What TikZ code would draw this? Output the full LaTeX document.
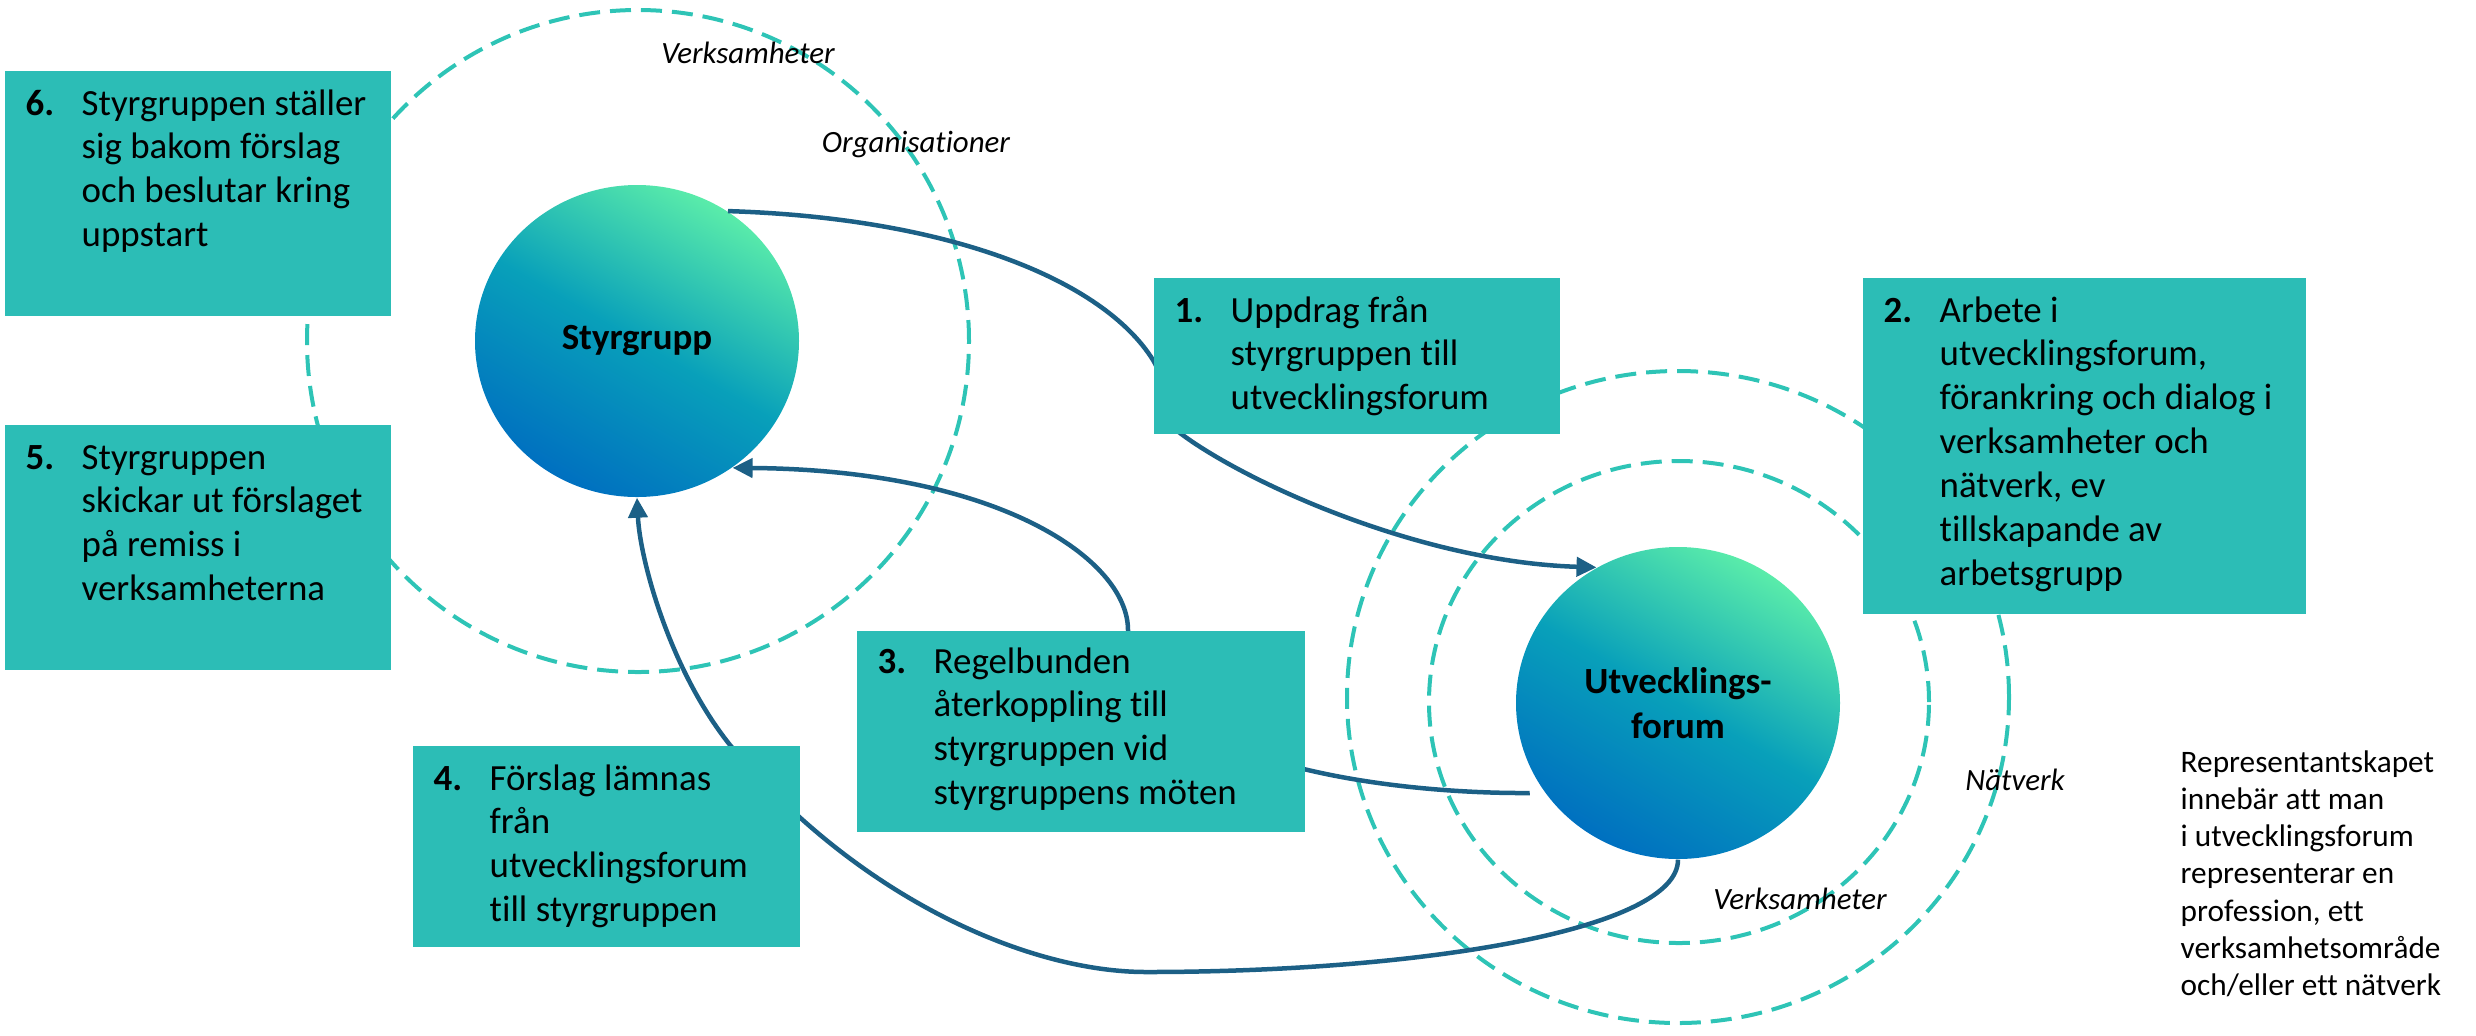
\documentclass[tikz,border=0pt]{standalone}
\usepackage{fontspec}
\setmainfont{Carlito}[Ligatures=NoCommon]
\usetikzlibrary{arrows.meta,shapes.geometric}

\definecolor{boxteal}{RGB}{44,189,182}
\definecolor{ringteal}{RGB}{46,196,182}
\definecolor{flowblue}{RGB}{28,96,134}
\definecolor{discgreen}{RGB}{90,236,170}
\definecolor{discmid}{RGB}{8,160,186}
\definecolor{discblue}{RGB}{0,112,192}

\newcommand{\stepnum}[2]{\makebox[0.56cm][l]{\textbf{#1}}\begin{tabular}[t]{@{}l@{}}#2\end{tabular}}

\begin{document}
\begin{tikzpicture}[
    stepbox/.style={rectangle, fill=boxteal, inner sep=0, anchor=north west},
    steptext/.style={inner sep=0, anchor=base west, font=\fontsize{10.5pt}{12.5pt}\selectfont},
    disc/.style={ellipse, minimum width=3.24cm, minimum height=3.12cm, inner sep=0,
      bottom color=discblue, top color=discgreen, middle color=discmid, shading angle=-30,
      align=center, font=\bfseries\fontsize{10.5pt}{12.8pt}\selectfont},
    ring/.style={draw=ringteal, line width=0.04cm, dash pattern=on 0.21cm off 0.1cm},
    ringlabel/.style={inner sep=0, anchor=base, font=\itshape\fontsize{8.8pt}{10.6pt}\selectfont},
    flow/.style={draw=flowblue, line width=0.045cm, -{Triangle[length=0.2cm,width=0.19cm]}}
  ]
      \useasboundingbox (0, 0) rectangle (24.76, -10.35);

      \draw[ring] (6.38, -3.41) circle (3.31);
      \draw[ring] (16.78, -6.97) ellipse (3.31 and 3.26);
      \draw[ring] (16.79, -7.02) ellipse (2.50 and 2.41);

      \node[disc] (sg) at (6.37, -3.41) {Styrgrupp};
      \node[disc] (uf) at (16.78, -7.03) {Utvecklings-\\forum};

      \path[flow] (sg.55) .. controls (9.50, -2.18) and (11.03, -2.80) .. (11.53, -3.60)
        .. controls (11.68, -3.84) and (11.60, -4.19) .. (11.80, -4.33)
        .. controls (12.45, -4.82) and (14.20, -5.62) .. (uf.121);
      \path[flow, shorten <=0.15cm] (uf.214) .. controls (13.80, -7.94) and (11.28, -7.60) .. (11.28, -6.30)
        .. controls (11.28, -5.60) and (10.00, -4.70) .. (sg.-53);
      \path[flow] (uf.south) .. controls (16.78, -9.30) and (14.20, -9.72) .. (11.46, -9.72)
        .. controls (10.30, -9.72) and (8.60, -9.00) .. (7.30, -7.45)
        .. controls (6.70, -6.70) and (6.40, -5.60) .. (sg.south);

      \node[stepbox, minimum width=3.86cm, minimum height=2.45cm] (b6) at (0.04, -0.70) {};
      \node[stepbox, minimum width=3.86cm, minimum height=2.45cm] (b5) at (0.04, -4.24) {};
      \node[stepbox, minimum width=4.06cm, minimum height=1.56cm] (b1) at (11.53, -2.77) {};
      \node[stepbox, minimum width=4.43cm, minimum height=3.36cm] (b2) at (18.62, -2.77) {};
      \node[stepbox, minimum width=4.48cm, minimum height=2.01cm] (b3) at (8.56, -6.30) {};
      \node[stepbox, minimum width=3.87cm, minimum height=2.01cm] (b4) at (4.12, -7.45) {};

      \node[steptext] (t6) at ([shift={(0.21, -0.45)}]b6.north west)
        {\stepnum{6.}{Styrgruppen ställer\\sig bakom förslag\\och beslutar kring\\uppstart}};
      \node[steptext] (t5) at ([shift={(0.21, -0.45)}]b5.north west)
        {\stepnum{5.}{Styrgruppen\\skickar ut förslaget\\på remiss i\\verksamheterna}};
      \node[steptext] (t1) at ([shift={(0.21, -0.45)}]b1.north west)
        {\stepnum{1.}{Uppdrag från\\styrgruppen till\\utvecklingsforum}};
      \node[steptext] (t2) at ([shift={(0.21, -0.45)}]b2.north west)
        {\stepnum{2.}{Arbete i\\utvecklingsforum,\\förankring och dialog i\\verksamheter och\\nätverk, ev\\tillskapande av\\arbetsgrupp}};
      \node[steptext] (t3) at ([shift={(0.21, -0.43)}]b3.north west)
        {\stepnum{3.}{Regelbunden\\återkoppling till\\styrgruppen vid\\styrgruppens möten}};
      \node[steptext] (t4) at ([shift={(0.21, -0.45)}]b4.north west)
        {\stepnum{4.}{Förslag lämnas\\från\\utvecklingsforum\\till styrgruppen}};

      \node[ringlabel] (verk1) at (7.48, -0.63) {Verksamheter};
      \node[ringlabel] (org) at (9.16, -1.52) {Organisationer};
      \node[ringlabel] (natv) at (20.15, -7.90) {Nätverk};
      \node[ringlabel] (verk2) at (18.00, -9.09) {Verksamheter};

      %\node at (22.5, -7.5) {Representantskapet};
      \node[inner sep=0, anchor=base west, font=\fontsize{8.9pt}{10.6pt}\selectfont] (note) at (21.80, -7.72)
        {\begin{tabular}[t]{@{}l@{}}Representantskapet\\innebär att man\\i utvecklingsforum\\representerar en\\profession, ett\\verksamhetsområde\\och/eller ett nätverk\end{tabular}};
    \end{tikzpicture}
\end{document}
